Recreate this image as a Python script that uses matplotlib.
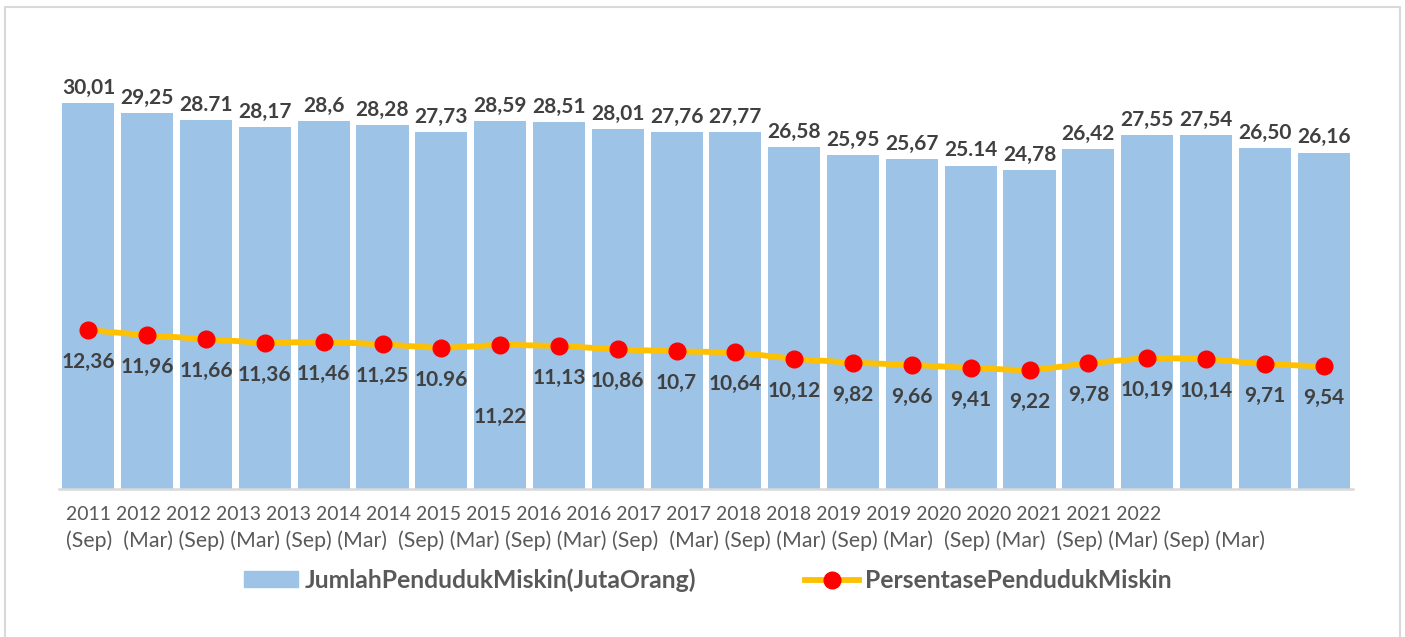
import matplotlib.pyplot as plt
from matplotlib.patches import Rectangle
from matplotlib.lines import Line2D
from matplotlib.patches import Patch

plt.rcParams['font.family'] = ['Lato', 'DejaVu Sans']

# data
jumlah = [30.01, 29.25, 28.71, 28.17, 28.6, 28.28, 27.73, 28.59, 28.51, 28.01, 27.76,
          27.77, 26.58, 25.95, 25.67, 25.14, 24.78, 26.42, 27.55, 27.54, 26.50, 26.16]
jumlah_labels = ['30,01', '29,25', '28.71', '28,17', '28,6', '28,28', '27,73', '28,59',
                 '28,51', '28,01', '27,76', '27,77', '26,58', '25,95', '25,67', '25.14',
                 '24,78', '26,42', '27,55', '27,54', '26,50', '26,16']
persen = [12.36, 11.96, 11.66, 11.36, 11.46, 11.25, 10.96, 11.22, 11.13, 10.86, 10.7,
          10.64, 10.12, 9.82, 9.66, 9.41, 9.22, 9.78, 10.19, 10.14, 9.71, 9.54]
persen_labels = ['12,36', '11,96', '11,66', '11,36', '11,46', '11,25', '10.96', '11,22',
                 '11,13', '10,86', '10,7', '10,64', '10,12', '9,82', '9,66', '9,41',
                 '9,22', '9,78', '10,19', '10,14', '9,71', '9,54']
years = ['2011', '2012', '2012', '2013', '2013', '2014', '2014', '2015', '2015', '2016',
         '2016', '2017', '2017', '2018', '2018', '2019', '2019', '2020', '2020', '2021',
         '2021', '2022']
months = ['(Sep)', ' (Mar)', '(Sep)', '(Mar)', '(Sep)', '(Mar)', ' (Sep)', '(Mar)', '(Sep)',
          '(Mar)', '(Sep)', ' (Mar)', '(Sep)', '(Mar)', '(Sep)', '(Mar)', ' (Sep)', '(Mar)',
          ' (Sep)', '(Mar)', '(Sep)', '(Mar)']

W, H = 1405, 637
fig = plt.figure(figsize=(W / 100, H / 100), dpi=100)
ax = fig.add_axes([59 / W, 1 - 489 / H, (1353 - 59) / W, 450 / H])

x = list(range(len(jumlah)))
bar_color = '#9DC3E6'
ax.bar(x, jumlah, width=0.885, color=bar_color, zorder=2)
ax.plot(x, persen, color='#FFC000', lw=4.2, zorder=3,
        marker='o', markersize=12, markerfacecolor='#FF0000', markeredgecolor='#FF0000')

for i, v in enumerate(jumlah):
    ax.annotate(jumlah_labels[i], (i, v), xytext=(0, 11), textcoords='offset points',
                ha='center', va='center', fontsize=15, fontweight='bold', color='#404040')

extra = {7: 29}
for i, v in enumerate(persen):
    dy = 23 + extra.get(i, 0)
    ax.annotate(persen_labels[i], (i, v), xytext=(0, -dy), textcoords='offset points',
                ha='center', va='center', fontsize=15, fontweight='bold', color='#404040')

ax.set_xlim(-0.5, len(jumlah) - 0.5)
ax.set_ylim(0, 35)
ax.set_xticks([])
ax.set_yticks([])
for s in ['top', 'left', 'right']:
    ax.spines[s].set_visible(False)
ax.spines['bottom'].set_color('#D9D9D9')
ax.spines['bottom'].set_linewidth(1.8)

# category labels as two flowing rows
t1 = fig.text(66 / W, 1 - 515 / H, ' '.join(years), fontsize=13, color='#595959',
              ha='left', va='center')
t2 = fig.text(66 / W, 1 - 541 / H, ' '.join(months), fontsize=13, color='#595959',
              ha='left', va='center')
fig.canvas.draw()
r = fig.canvas.get_renderer()
for t, target in [(t1, 1150 - 66), (t2, 1252 - 66)]:
    w = t.get_window_extent(r).width
    t.set_fontsize(13 * target / w)

handles = [Patch(facecolor=bar_color, edgecolor=bar_color),
           Line2D([0], [0], color='#FFC000', lw=4.2, marker='o', markersize=12,
                  markerfacecolor='#FF0000', markeredgecolor='#FF0000')]
fig.legend(handles, ['JumlahPendudukMiskin(JutaOrang)', 'PersentasePendudukMiskin'],
           loc='center', bbox_to_anchor=(708 / W, 1 - 580 / H), ncol=2, frameon=False,
           prop={'size': 17.8, 'weight': 'bold'}, labelcolor='#595959',
           handlelength=2.2, handleheight=0.6, handletextpad=0.25, columnspacing=4.4)

fig.patches.append(Rectangle((5 / W, -0.05), 1395 / W, 1.05 - 7 / H, transform=fig.transFigure,
                             fill=False, edgecolor='#D9D9D9', lw=1.5))

fig.savefig('out.png', dpi=100)
